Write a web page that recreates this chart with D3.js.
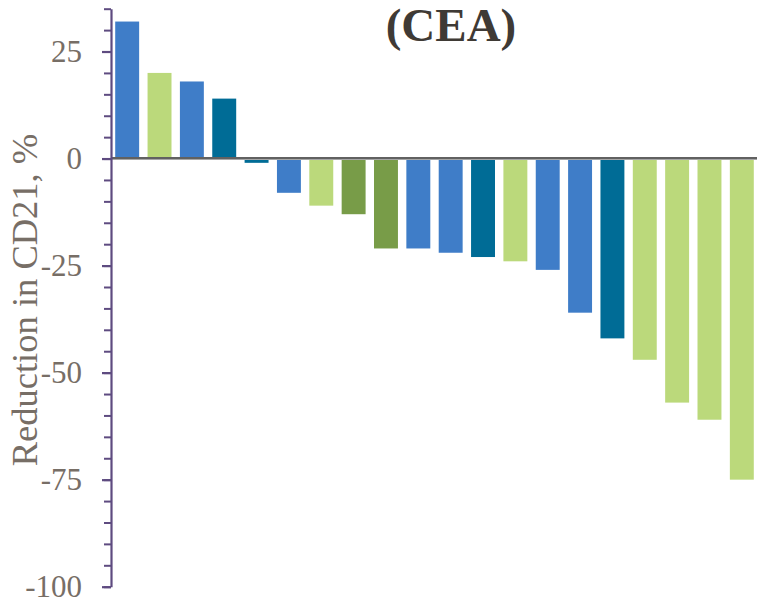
<!DOCTYPE html>
<html>
<head>
<meta charset="utf-8">
<script src="https://cdn.jsdelivr.net/npm/d3@7"></script>
<style>
  html, body { margin: 0; padding: 0; background: #fff; }
  svg { display: block; }
  .serif { font-family: "Liberation Serif", "Times New Roman", Times, serif; }
</style>
</head>
<body>
<svg id="chart" width="757" height="601"></svg>
<script>
// Per-patient change in CD21, sorted from largest increase to largest reduction
const patients = ["P1","P2","P3","P4","P5","P6","P7","P8","P9","P10",
                  "P11","P12","P13","P14","P15","P16","P17","P18","P19","P20"];
const reduction = [32, 20, 18, 14, -1, -8, -11, -13, -21, -21,
                   -22, -23, -24, -26, -36, -42, -47, -57, -61, -75];
const groups = ["A","B","A","C","C","A","B","D","D","A",
                "A","C","B","A","A","C","B","B","B","B"];
const groupNames = ["A","B","C","D"];
const groupColors = ["#3f7dc8", "#bbd97b", "#006c96", "#789c48"];
const majorTicks = [25, 0, -25, -50, -75, -100];
const minorTicks = d3.range(-100, 36, 5);
const yDomain = [-100, 35];

const svg = d3.select("#chart");
const x = d3.scaleBand().domain(patients).range([111, 758]).paddingInner(0.26).paddingOuter(0.13);
const y = d3.scaleLinear().domain(yDomain).range([586.7, 8.7]);
const color = d3.scaleOrdinal().domain(groupNames).range(groupColors);

// Bars
svg.append("g").selectAll("rect")
  .data(patients)
  .join("rect")
  .attr("x", d => x(d))
  .attr("width", x.bandwidth())
  .attr("y", (d, i) => y(Math.max(0, reduction[i])))
  .attr("height", (d, i) => Math.abs(y(reduction[i]) - y(0)))
  .attr("fill", (d, i) => color(groups[i]));

// Zero baseline
svg.append("line")
  .attr("x1", 111).attr("x2", 757)
  .attr("y1", y(0)).attr("y2", y(0))
  .attr("stroke", "#a6a6a6").attr("stroke-width", 3);
svg.append("line")
  .attr("x1", 111).attr("x2", 757)
  .attr("y1", y(0) - 0.5).attr("y2", y(0) - 0.5)
  .attr("stroke", "#4a4a4a").attr("stroke-width", 1.6);

// Y axis: minor ticks, then major ticks with labels
const axisColor = "#5e4b80";
const minorAxis = svg.append("g").attr("transform", "translate(111,0)")
  .call(d3.axisLeft(y).tickValues(minorTicks).tickSize(7).tickFormat(""));
minorAxis.select(".domain").remove();
minorAxis.selectAll(".tick line").attr("stroke", axisColor).attr("stroke-width", 2);

const majorAxis = svg.append("g").attr("transform", "translate(111,0)")
  .call(d3.axisLeft(y).tickValues(majorTicks).tickSize(9).tickSizeOuter(0).tickPadding(20)
    .tickFormat(d => String(d)));
majorAxis.attr("font-family", null).attr("font-size", null);
majorAxis.select(".domain").attr("stroke", axisColor).attr("stroke-width", 2.2);
majorAxis.selectAll(".tick line").attr("stroke", axisColor).attr("stroke-width", 2.2);
majorAxis.selectAll(".tick text")
  .attr("class", "serif")
  .attr("fill", "#776e66")
  .style("font-size", "31px")
  .attr("dy", "0.33em");

// Axis title
svg.append("text")
  .attr("class", "serif")
  .attr("transform", "translate(37,300) rotate(-90)")
  .attr("text-anchor", "middle")
  .attr("fill", "#776e66")
  .style("font-size", "36.5px")
  .text("Reduction in CD21, %");

// Chart title
svg.append("text")
  .attr("class", "serif")
  .attr("x", 451).attr("y", 41)
  .attr("text-anchor", "middle")
  .attr("fill", "#3f3a35")
  .style("font-weight", "bold")
  .style("font-size", "47px")
  .text("(CEA)");
</script>
</body>
</html>
